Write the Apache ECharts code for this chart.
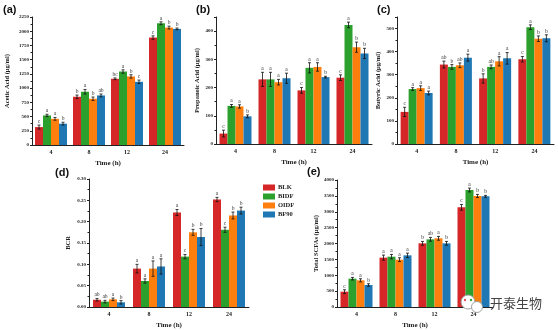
<!DOCTYPE html>
<html><head><meta charset="utf-8">
<script src="https://cdn.jsdelivr.net/npm/echarts@6/dist/echarts.min.js"></script>
<style>html,body{margin:0;padding:0;background:#fff}#c{width:558px;height:330px}</style>
</head><body><div id="c"></div>
<script>
const categories = ['4', '8', '12', '24'];
const seriesNames = ['BLK', 'BIDF', 'OIDF', 'BF90'];
const colors = ['#d62728', '#2ca02c', '#ff7f0e', '#1f77b4'];

// values per series (BLK, BIDF, OIDF, BF90) across 4, 8, 12, 24 h
const aceticValues = [[315, 848, 1164, 1889], [520, 936, 1292, 2140], [460, 813, 1205, 2064], [375, 871, 1111, 2041]];
const aceticErrors = [[35, 30, 15, 30], [20, 40, 30, 25], [25, 30, 30, 25], [25, 25, 30, 15]];
const aceticLetters = [['c', 'b', 'bc', 'c'], ['a', 'a', 'a', 'a'], ['a', 'b', 'b', 'b'], ['b', 'ab', 'c', 'b']];

const propValues = [[37, 229, 190, 235], [135, 229, 270, 422], [133, 219, 273, 343], [98, 233, 237, 321]];
const propErrors = [[12, 25, 10, 10], [5, 25, 18, 10], [6, 10, 15, 18], [5, 18, 3, 18]];
const propLetters = [['c', 'a', 'c', 'c'], ['a', 'a', 'a', 'a'], ['a', 'a', 'a', 'b'], ['b', 'a', 'b', 'b']];

const butValues = [[139, 344, 284, 367], [238, 334, 334, 506], [242, 341, 358, 456], [221, 374, 371, 458]];
const butErrors = [[20, 15, 20, 12], [6, 10, 8, 10], [10, 10, 20, 12], [8, 15, 25, 15]];
const butLetters = [['c', 'ab', 'b', 'c'], ['a', 'b', 'ab', 'a'], ['a', 'ab', 'a', 'b'], ['a', 'a', 'a', 'b']];

const bcrValues = [[0.017, 0.090, 0.2215, 0.252], [0.0126, 0.061, 0.118, 0.181], [0.018, 0.090, 0.175, 0.2145], [0.011, 0.095, 0.164, 0.226]];
const bcrErrors = [[0.003, 0.010, 0.007, 0.005], [0.003, 0.005, 0.005, 0.006], [0.003, 0.018, 0.007, 0.008], [0.004, 0.018, 0.020, 0.008]];
const bcrLetters = [['ab', 'a', 'a', 'a'], ['ab', 'a', 'c', 'c'], ['a', 'a', 'b', 'b'], ['b', 'a', 'b', 'b']];

const totalValues = [[483, 1554, 2005, 3139], [892, 1585, 2131, 3685], [840, 1491, 2163, 3496], [693, 1627, 2005, 3486]];
const totalErrors = [[60, 80, 60, 90], [40, 70, 60, 60], [50, 60, 60, 50], [40, 70, 60, 30]];
const totalLetters = [['c', 'a', 'b', 'c'], ['a', 'a', 'ab', 'a'], ['a', 'a', 'a', 'b'], ['b', 'a', 'b', 'b']];

const panels = [
  { label: '(a)', name: 'Acetic Acid (μg/ml)', values: aceticValues, errors: aceticErrors, letters: aceticLetters,
    grid: { left: 32, top: 17, width: 152, height: 128 }, max: 2250, interval: 250, dec: 0, nameGap: 21, lab: [3, 4] },
  { label: '(b)', name: 'Propanoic Acid (μg/ml)', values: propValues, errors: propErrors, letters: propLetters,
    grid: { left: 216, top: 17, width: 156, height: 127 }, max: 450, interval: 100, dec: 0, nameGap: 15, lab: [196, 4] },
  { label: '(c)', name: 'Butyric Acid (μg/ml)', values: butValues, errors: butErrors, letters: butLetters,
    grid: { left: 397, top: 17, width: 157, height: 127 }, max: 550, interval: 100, dec: 0, nameGap: 15, lab: [377, 4] },
  { label: '(d)', name: 'BCR', values: bcrValues, errors: bcrErrors, letters: bcrLetters,
    grid: { left: 89, top: 179, width: 160, height: 128 }, max: 0.30, interval: 0.05, dec: 2, nameGap: 17, lab: [55, 167] },
  { label: '(e)', name: 'Total SCFAs (μg/ml)', values: totalValues, errors: totalErrors, letters: totalLetters,
    grid: { left: 337, top: 180, width: 156, height: 127 }, max: 4000, interval: 500, dec: 0, nameGap: 17, lab: [307, 166] }
];

const BAR_W = 8;
const SERIF = '"Liberation Serif", "DejaVu Serif", serif';

const grids = [], xAxes = [], yAxes = [], series = [], graphics = [];
panels.forEach((p, gi) => {
  grids.push(p.grid);
  xAxes.push({
    type: 'category', gridIndex: gi, data: categories,
    name: 'Time (h)', nameLocation: 'middle', nameGap: 15,
    nameTextStyle: { fontFamily: SERIF, fontWeight: 'bold', fontSize: 7, color: '#222' },
    axisLine: { lineStyle: { color: '#222', width: 1 } },
    axisTick: { alignWithLabel: true, length: 2, lineStyle: { color: '#222' } },
    axisLabel: { fontFamily: SERIF, fontWeight: 'bold', fontSize: 6, color: '#222', margin: 4 }
  });
  yAxes.push({
    type: 'value', gridIndex: gi, min: 0, max: p.max, interval: p.interval,
    name: p.name, nameLocation: 'middle', nameGap: p.nameGap, nameRotate: 90,
    nameTextStyle: { fontFamily: SERIF, fontWeight: 'bold', fontSize: 6.5, color: '#222' },
    axisLine: { show: true, lineStyle: { color: '#222', width: 1 } },
    axisTick: { show: true, length: 2, lineStyle: { color: '#222' } },
    minorTick: { show: true, splitNumber: 2, length: 1.5, lineStyle: { color: '#222' } },
    splitLine: { show: false },
    axisLabel: {
      fontFamily: SERIF, fontWeight: 'bold', fontSize: 5, color: '#222', margin: 3,
      formatter: v => {
        const k = Math.round(v / p.interval);
        if (Math.abs(k * p.interval - v) > 1e-9) return '';
        return v.toFixed(p.dec);
      }
    }
  });
  seriesNames.forEach((sn, si) => {
    series.push({
      type: 'bar', name: sn, xAxisIndex: gi, yAxisIndex: gi,
      data: p.values[si], barWidth: BAR_W, barGap: '0%',
      itemStyle: { color: colors[si] }, emphasis: { disabled: true }
    });
  });
  seriesNames.forEach((sn, si) => {
    series.push({
      type: 'custom', name: 'err_' + gi + '_' + si, xAxisIndex: gi, yAxisIndex: gi, z: 5,
      data: p.values[si].map((v, ci) => [ci, v, p.errors[si][ci]]),
      renderItem: (params, api) => {
        const ci = api.value(0), v = api.value(1), e = api.value(2);
        const top = api.coord([ci, v + e]);
        const bot = api.coord([ci, v - e]);
        const cx = top[0] + (si - 1.5) * BAR_W;
        const ls = { stroke: '#111', lineWidth: 0.8 };
        return {
          type: 'group', children: [
            { type: 'line', shape: { x1: cx, y1: top[1], x2: cx, y2: bot[1] }, style: ls },
            { type: 'line', shape: { x1: cx - 1.5, y1: top[1], x2: cx + 1.5, y2: top[1] }, style: ls },
            { type: 'line', shape: { x1: cx - 1.5, y1: bot[1], x2: cx + 1.5, y2: bot[1] }, style: ls },
            { type: 'text', x: cx, y: top[1] - 0.5,
              style: { text: p.letters[si][ci], textAlign: 'center', textVerticalAlign: 'bottom',
                       fontFamily: SERIF, fontSize: 5.5, fill: '#333' } }
          ]
        };
      }
    });
  });
  graphics.push({ type: 'text', left: p.lab[0], top: p.lab[1],
    style: { text: p.label, font: 'bold 11px "Liberation Sans", Arial, sans-serif', fill: '#111' } });
});

// watermark icon and text
graphics.push({ type: 'circle', z: 100, shape: { cx: 468, cy: 302, r: 7 }, style: { fill: '#fff', stroke: '#999', lineWidth: 0.9 } });
graphics.push({ type: 'circle', z: 101, shape: { cx: 477, cy: 307, r: 5.5 }, style: { fill: '#fff', stroke: '#999', lineWidth: 0.9 } });
graphics.push({ type: 'circle', z: 102, shape: { cx: 465, cy: 300, r: 1.2 }, style: { fill: '#e05060' } });
graphics.push({ type: 'circle', z: 102, shape: { cx: 471, cy: 300, r: 1.2 }, style: { fill: '#3aa040' } });
graphics.push({ type: 'text', z: 100, left: 490, top: 297,
  style: { text: '开泰生物', font: '13px "Noto Sans CJK SC", sans-serif', fill: '#444' } });

const chart = echarts.init(document.getElementById('c'), null, { renderer: 'canvas' });
chart.setOption({
  animation: false,
  backgroundColor: '#fff',
  grid: grids, xAxis: xAxes, yAxis: yAxes, series: series,
  legend: {
    data: seriesNames, orient: 'vertical', left: 258, top: 179,
    itemWidth: 12, itemHeight: 6, itemGap: 2, selectedMode: false,
    icon: 'rect',
    textStyle: { fontFamily: SERIF, fontWeight: 'bold', fontSize: 6.5, color: '#222', padding: [0, 0, 0, -2] }
  },
  graphic: graphics
});
</script></body></html>
